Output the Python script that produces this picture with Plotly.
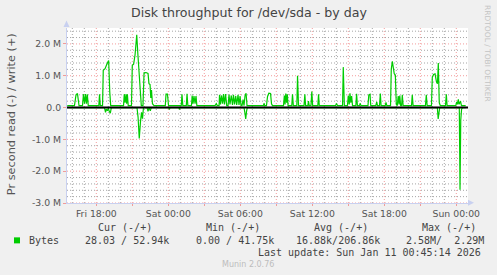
import pandas as pd
import plotly.graph_objects as go

# ---------------- data (hours relative to Fri 2026-01-09 18:00, values in MB/s) -------------
base_time = pd.Timestamp("2026-01-09 18:00")

write_hours = [-2.42, -1.82, -1.69, -1.57, -1.44, -1.15, -1.07, -0.98, -0.90, -0.82, -0.75, -0.67,
               0.21, 0.27, 0.33, 0.52, 0.58, 0.73, 0.87, 1.03, 1.12, 1.20,
               2.27, 2.33, 2.40, 2.48, 2.53, 2.59, 2.66, 2.93, 3.00, 3.11, 3.23, 3.37, 3.46, 3.56,
               3.64, 3.75, 3.89, 3.98, 4.14, 4.31, 4.39, 4.48, 4.54, 4.60, 4.68, 4.81,
               5.75, 5.81, 5.93, 6.02, 7.08, 7.14, 7.21, 7.50, 7.56, 7.63, 7.93, 7.99, 8.06, 8.14,
               8.23, 8.31, 8.38, 9.89, 10.00, 10.08, 10.23, 10.27, 10.35, 10.43, 10.52, 10.60,
               10.68, 10.77, 10.87, 10.98, 11.06, 11.14, 11.25, 11.35, 11.43, 11.52, 11.62, 11.70,
               11.81, 11.89, 11.98, 12.06, 12.14, 12.23, 12.31, 12.39, 12.48, 12.56,
               13.92, 13.98, 14.04, 14.18, 14.27, 14.38, 14.52, 14.60, 14.68,
               15.60, 15.67, 15.73, 15.79, 15.86, 15.92, 15.98, 16.29, 16.35, 16.42, 16.71, 16.77,
               16.85, 17.31, 17.38, 17.44, 17.63, 17.68, 17.74, 17.89, 17.96, 18.03, 18.46, 18.52,
               18.58, 19.93, 20.02, 20.10, 20.52, 20.58, 20.67, 20.93, 21.00, 21.08, 21.14, 21.21,
               21.28, 21.35, 21.63, 21.69, 21.76, 21.93, 21.99, 22.06, 22.64, 22.71, 22.81, 22.87,
               23.29, 23.37, 23.43, 23.60, 23.67, 23.73, 24.08, 24.14, 24.21, 24.52, 24.58, 24.67,
               24.75, 24.83, 24.92, 25.00, 25.08, 25.16, 25.23, 25.29, 25.36, 25.44, 25.50, 25.57,
               26.27, 26.33, 26.40, 27.43, 27.50, 27.57, 27.93, 28.00, 28.10, 28.23, 28.35, 28.43,
               28.50, 28.58, 28.67, 29.10, 29.17, 29.23, 29.96, 30.03, 30.10, 30.17, 30.23, 30.35,
               30.43, 30.78]
write_mb = [0.06, 0.06, 0.40, 0.44, 0.06, 0.06, 0.42, 0.12, 0.42, 0.12, 0.42, 0.06,
            0.06, 0.42, 0.06, 0.06, 1.17, 1.22, 1.35, 1.48, 0.50, 0.06,
            0.06, 0.42, 0.15, 0.42, 0.12, 0.42, 0.06, 0.06, 1.33, 1.36, 1.66, 2.29, 1.70, 1.00,
            0.45, 0.06, 0.06, 1.09, 1.10, 1.07, 0.75, 0.72, 0.30, 0.55, 0.12, 0.06,
            0.06, 0.42, 0.42, 0.06, 0.06, 0.42, 0.06, 0.06, 0.43, 0.06, 0.06, 0.38, 0.12, 0.36,
            0.12, 0.36, 0.06, 0.06, 0.12, 0.06, 0.06, 0.40, 0.10, 0.38, 0.12, 0.42,
            0.10, 0.42, 0.06, 0.06, 0.40, 0.10, 0.38, 0.08, 0.40, 0.10, 0.36, 0.08,
            0.40, 0.08, 0.36, 0.06, 0.06, 0.25, 0.06, 0.36, 0.45, 0.06,
            0.06, 0.13, 0.06, 0.06, 0.35, 0.45, 0.44, 0.12, 0.06,
            0.06, 0.38, 0.10, 0.44, 0.15, 0.42, 0.06, 0.06, 0.42, 0.06, 0.06, 1.00,
            0.06, 0.06, 0.42, 0.06, 0.06, 0.20, 0.06, 0.06, 0.50, 0.06, 0.06, 0.42,
            0.06, 0.06, 0.13, 0.06, 0.06, 1.27, 0.06, 0.06, 0.38, 0.10, 0.45, 0.15,
            0.36, 0.06, 0.06, 0.43, 0.06, 0.06, 0.13, 0.06, 0.06, 0.40, 0.42, 0.06,
            0.06, 0.18, 0.06, 0.06, 0.44, 0.06, 0.06, 0.16, 0.06, 0.06, 1.20, 1.45,
            1.20, 1.06, 1.02, 0.10, 0.06, 0.36, 0.10, 0.38, 0.06, 0.06, 0.40, 0.06,
            0.06, 0.40, 0.06, 0.06, 0.40, 0.06, 0.06, 0.95, 1.04, 1.06, 0.80, 0.75,
            1.40, 0.15, 0.06, 0.06, 0.42, 0.06, 0.06, 0.18, 0.10, 0.26, 0.10, 0.20,
            0.06, 0.06]

read_hours = [-2.42, 0.68, 0.77, 0.83, 0.93, 1.00, 1.08, 1.17, 1.25,
              3.39, 3.48, 3.58, 3.68, 3.77, 3.85, 3.93,
              4.23, 4.31, 4.39, 4.50, 4.58,
              6.04, 6.09, 6.14, 6.88, 6.93, 6.98,
              12.31, 12.39, 12.45, 12.52, 12.58,
              28.42, 28.49, 28.56, 28.62,
              30.25, 30.31, 30.37, 30.44, 30.52, 30.78]
read_mb = [0.0, 0.0, 0.15, 0.05, 0.10, 0.02, 0.12, 0.18, 0.0,
           0.0, 0.30, 0.97, 0.45, 0.15, 0.35, 0.0,
           0.0, 0.12, 0.0, 0.10, 0.0,
           0.0, 0.06, 0.0, 0.0, 0.06, 0.0,
           0.0, 0.18, 0.36, 0.12, 0.0,
           0.0, 0.36, 0.15, 0.0,
           0.0, 2.58, 0.40, 0.05, 0.0, 0.0]

y_tick_vals = [-3e6, -2e6, -1e6, 0, 1e6, 2e6]
y_tick_text = ["-3.0 M", "-2.0 M", "-1.0 M", "0.0", "1.0 M", "2.0 M"]
y_minor_mb = [-2.8, -2.6, -2.4, -2.2, -1.8, -1.6, -1.4, -1.2, -0.8, -0.6, -0.4, -0.2,
              0.2, 0.4, 0.6, 0.8, 1.2, 1.4, 1.6, 1.8, 2.2, 2.4]
x_tick_hours = [0, 3, 6, 9, 12, 15, 18, 21, 24, 27, 30]
x_tick_text = ["Fri 18:00", "", "Sat 00:00", "", "Sat 06:00", "", "Sat 12:00", "",
               "Sat 18:00", "", "Sun 00:00"]
x_minor_hours = [-2, -1, 1, 2, 4, 5, 7, 8, 10, 11, 13, 14, 16, 17, 19, 20, 22, 23,
                 25, 26, 28, 29]

legend_headers = ["Cur (-/+)", "Min (-/+)", "Avg (-/+)", "Max (-/+)"]
legend_values = ["28.03 / 52.94k", "0.00 / 41.75k", "16.88k/206.86k", "2.58M/\u00a0\u00a02.29M"]

# ---------------- layout geometry ----------------
W, H = 497, 275
L, R, T, B = 67, 468, 28, 202.7

def px(xp):
    return (xp - L) / (R - L)

def py(yp):
    return (B - yp) / (B - T)

def t(h):
    return base_time + pd.to_timedelta(h, unit="h")

GREEN = "#00CC00"
SANS = "DejaVu Sans"
MONO = "DejaVu Sans Mono"
MAJ = "rgba(240,140,140,0.85)"
MIN = "rgba(165,165,165,1)"
DASH = "1px,2px"

fig = go.Figure()
fig.add_trace(go.Scatter(x=[t(h) for h in read_hours], y=[-v * 1e6 for v in read_mb],
                         mode="lines", line=dict(color=GREEN, width=1.2), hoverinfo="skip"))
fig.add_trace(go.Scatter(x=[t(h) for h in write_hours], y=[v * 1e6 for v in write_mb],
                         mode="lines", line=dict(color=GREEN, width=1.2), hoverinfo="skip"))

x_start = t((L - 96.3) / 12)
x_end = t((R - 96.3) / 12)

fig.update_layout(
    width=W, height=H,
    margin=dict(l=L, r=W - R, t=T, b=H - B),
    paper_bgcolor="#F0F0F0", plot_bgcolor="#FFFFFF",
    showlegend=False,
    xaxis=dict(type="date", range=[x_start, x_end],
               tickmode="array", tickvals=[t(h) for h in x_tick_hours], ticktext=x_tick_text,
               showgrid=False, ticks="outside", ticklen=2, tickcolor=MAJ,
               tickfont=dict(family=SANS, size=9.3, color="#555555"),
               showline=True, linecolor="#C8D0F0", linewidth=1,
               zeroline=False, fixedrange=True),
    yaxis=dict(range=[-3e6, 2.5e6],
               tickmode="array", tickvals=y_tick_vals, ticktext=y_tick_text,
               showgrid=False, ticks="outside", ticklen=3, tickcolor=MAJ,
               tickfont=dict(family=SANS, size=9.3, color="#555555"),
               showline=True, linecolor="#C8D0F0", linewidth=1,
               zeroline=False, fixedrange=True),
)

# grid (dotted), drawn below the data
for v in y_minor_mb:
    fig.add_shape(type="line", xref="paper", yref="y", x0=0, x1=1, y0=v * 1e6, y1=v * 1e6,
                  line=dict(color=MIN, width=1, dash=DASH), layer="below")
for h in x_minor_hours:
    fig.add_shape(type="line", xref="x", yref="paper", x0=t(h), x1=t(h), y0=0, y1=1,
                  line=dict(color=MIN, width=1, dash=DASH), layer="below")
for v in y_tick_vals:
    fig.add_shape(type="line", xref="paper", yref="y", x0=0, x1=1, y0=v, y1=v,
                  line=dict(color=MAJ, width=1, dash=DASH), layer="below")
for h in x_tick_hours:
    fig.add_shape(type="line", xref="x", yref="paper", x0=t(h), x1=t(h), y0=0, y1=1,
                  line=dict(color=MAJ, width=1, dash=DASH), layer="below")

# zero line
fig.add_shape(type="line", xref="paper", yref="y", x0=0, x1=1, y0=0, y1=0,
              line=dict(color="#000000", width=2), layer="above")
# axis arrows
fig.add_shape(type="path", xref="paper", yref="paper",
              path=f"M {px(66.5)} {py(20.5)} L {px(63.5)} {py(27)} L {px(69.5)} {py(27)} Z",
              fillcolor="#C8D0F0", line=dict(width=0))
fig.add_shape(type="path", xref="paper", yref="paper",
              path=f"M {px(474)} {py(202.5)} L {px(468)} {py(199.5)} L {px(468)} {py(205.5)} Z",
              fillcolor="#C8D0F0", line=dict(width=0))
# legend color box
fig.add_shape(type="rect", xref="paper", yref="paper",
              x0=px(14), x1=px(20), y0=py(243), y1=py(237),
              fillcolor=GREEN, line=dict(width=0))

def ann(text, x, y, size, family=SANS, color="#444444", xanchor="center", angle=0):
    fig.add_annotation(text=text, x=px(x), y=py(y), xref="paper", yref="paper",
                       showarrow=False, xanchor=xanchor, yanchor="middle",
                       textangle=angle, font=dict(family=family, size=size, color=color))

ann("Disk throughput for /dev/sda - by day", 248.5, 13, 12.6, color="#444444")
ann("Pr second read (-) / write (+)", 11, 114, 11.3, color="#555555", angle=-90)
ann("RRDTOOL / TOBI OETIKER", 487.5, 53.5, 7.5, color="#C4C4C4", angle=90)

for hdr, cx in zip(legend_headers, [125, 233, 341, 449]):
    ann(hdr, cx, 227.3, 10, family=MONO)
ann("Bytes", 27, 239.7, 10, family=MONO, xanchor="left")
for val, lx in zip(legend_values, [82.7, 194, 294, 404]):
    ann(val, lx, 239.7, 10, family=MONO, xanchor="left")
ann("Last update: Sun Jan 11 00:45:14 2026", 483, 251.7, 10, family=MONO, xanchor="right")
ann("Munin 2.0.76", 248, 264, 8, color="#BDBDBD")

fig.write_html("out.html")
